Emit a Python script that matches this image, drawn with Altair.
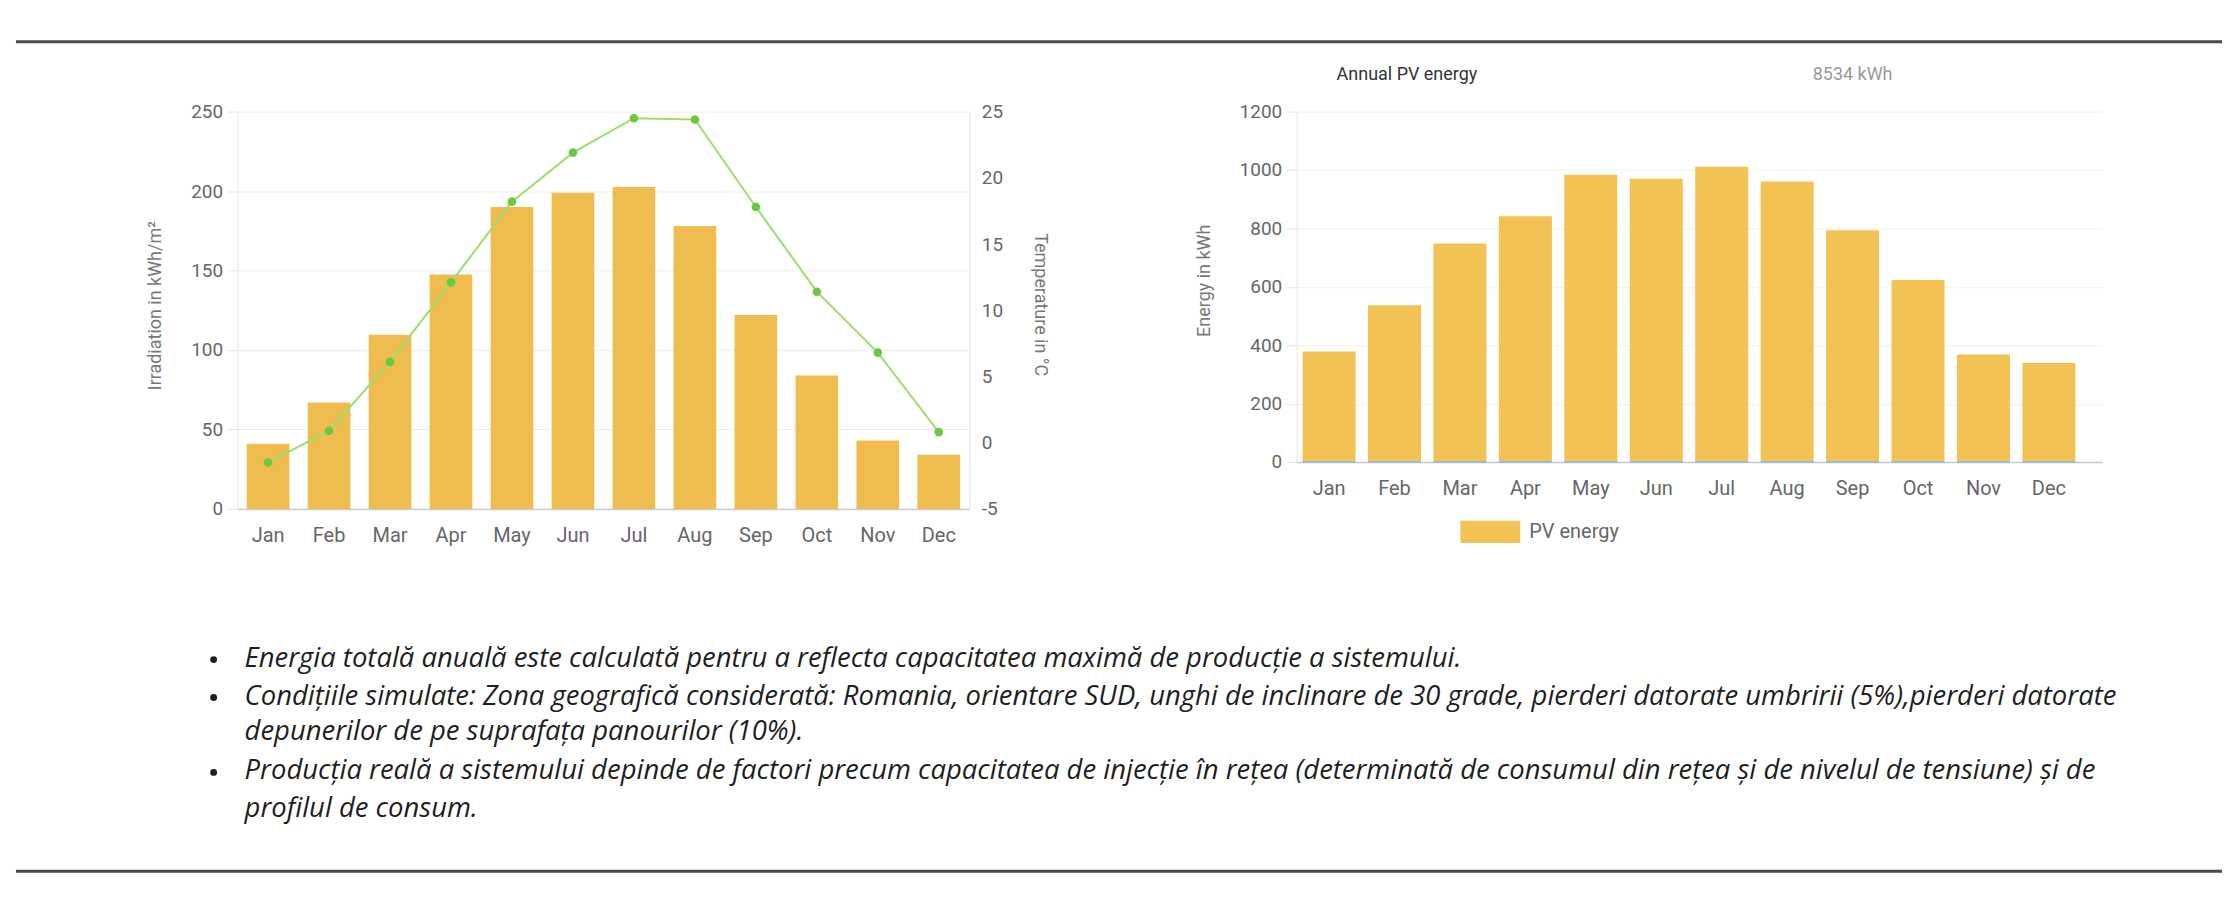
import altair as alt
import pandas as pd

MONTHS = ["Jan", "Feb", "Mar", "Apr", "May", "Jun", "Jul", "Aug", "Sep", "Oct", "Nov", "Dec"]
IRRADIATION = [41, 67, 109.5, 147.5, 190, 199, 202.5, 178, 122, 84, 43, 34]
TEMPERATURE = [-1.5, 0.9, 6.1, 12.1, 18.2, 21.9, 24.5, 24.4, 17.8, 11.4, 6.8, 0.8]
PV_ENERGY = [378, 537, 748, 842, 984, 970, 1011, 961, 794, 623, 368, 339]
ZERO_SERIES = [0, 0, 0, 0, 0, 0, 0, 0, 0, 0, 0, 0]

IRR_TICKS = [0, 50, 100, 150, 200, 250]
TEMP_TICKS = [-5, 0, 5, 10, 15, 20, 25]
ENERGY_TICKS = [0, 200, 400, 600, 800, 1000, 1200]

IRR_TITLE = "Irradiation in kWh/m²"
TEMP_TITLE = "Temperature in °C"
ENERGY_TITLE = "Energy in kWh"
ANNUAL_LABEL = "Annual PV energy"
ANNUAL_TOTAL = "8534 kWh"
LEGEND_LABEL = "PV energy"

BULLETS = [
    "Energia totală anuală este calculată pentru a reflecta capacitatea maximă de producție a sistemului.",
    "Condițiile simulate: Zona geografică considerată: Romania, orientare SUD, unghi de inclinare de 30 grade, pierderi datorate umbririi (5%),pierderi datorate",
    "depunerilor de pe suprafața panourilor (10%).",
    "Producția reală a sistemului depinde de factori precum capacitatea de injecție în rețea (determinată de consumul din rețea și de nivelul de tensiune) și de",
    "profilul de consum.",
]
BULLET_ON = [True, True, False, True, False]

FONT = "Roboto"
TEXT_FONT = "Open Sans"
LABEL_COLOR = "#666666"
BAR_L = "#EFBC50"
BAR_R = "#F3C254"
PLAIN_LABEL = "datum.value + ''"


def text_layer(txt, x, y, **kw):
    return alt.Chart(pd.DataFrame({"t": [txt]})).mark_text(**kw).encode(
        x=alt.value(x), y=alt.value(y), text="t:N"
    )


def bullet_dot(x, y):
    return alt.Chart(pd.DataFrame({"k": [0]})).mark_circle(
        size=48, color="#1e1e1e", opacity=1
    ).encode(x=alt.value(x), y=alt.value(y))


def hrule(x1, x2, y):
    return alt.Chart(pd.DataFrame({"k": [0]})).mark_rule(
        color="#4a4a4a", strokeWidth=3
    ).encode(x=alt.value(x1), x2=alt.value(x2), y=alt.value(y))


# ---------------- left chart: irradiation + temperature ----------------
irr_df = pd.DataFrame({"month": MONTHS, "irr": IRRADIATION, "temp": TEMPERATURE})

x_left = alt.X(
    "month:N", sort=MONTHS,
    scale=alt.Scale(paddingInner=0.3, paddingOuter=0.15),
    axis=alt.Axis(title=None, labelAngle=0, ticks=False, labelPadding=17,
                  domainColor="#cccccc", domainWidth=1.5, grid=False,
                  labelFont=FONT, labelFontSize=20, labelColor=LABEL_COLOR),
)

bars_l = alt.Chart(irr_df).mark_bar(color=BAR_L).encode(
    x=x_left,
    y=alt.Y("irr:Q", scale=alt.Scale(domain=[0, 250], nice=False),
            axis=alt.Axis(values=IRR_TICKS, title=IRR_TITLE, grid=True,
                          labelExpr=PLAIN_LABEL,
                          gridColor="#ececec", domainColor="#e4e4e4",
                          tickColor="#e4e4e4", tickSize=10, labelPadding=5,
                          labelFont=FONT, labelFontSize=19, labelColor=LABEL_COLOR,
                          titleFont=FONT, titleFontSize=18, titleFontWeight="normal",
                          titleColor="#777777", titleX=-82, titleY=194,
                          titleAngle=270, titleAlign="center", titleBaseline="middle")),
)

line_l = alt.Chart(irr_df).mark_line(
    color="#9BDE6B", strokeWidth=2,
    point=alt.OverlayMarkDef(filled=True, color="#6CC742", size=75, opacity=1),
).encode(
    x=x_left,
    y=alt.Y("temp:Q", scale=alt.Scale(domain=[-5, 25], nice=False),
            axis=alt.Axis(orient="right", values=TEMP_TICKS, title=TEMP_TITLE,
                          labelExpr=PLAIN_LABEL,
                          grid=False, domainColor="#e4e4e4", ticks=False,
                          labelPadding=12, labelFont=FONT, labelFontSize=19,
                          labelColor=LABEL_COLOR, titleFont=FONT, titleFontSize=18,
                          titleFontWeight="normal", titleColor="#777777",
                          titleX=70, titleY=193, titleAngle=90,
                          titleAlign="center", titleBaseline="middle")),
)

# decorations (positions relative to the left plot origin)
decor = [hrule(-222, 1988, -70), hrule(-222, 1988, 761)]
bullet_y = [548, 586, 622, 661, 699]
for txt, yy, has_b in zip(BULLETS, bullet_y, BULLET_ON):
    decor.append(text_layer(txt, 7, yy, align="left", baseline="middle",
                            font=TEXT_FONT, fontStyle="italic", fontSize=27.5,
                            color="#1e1e1e"))
    if has_b:
        decor.append(bullet_dot(-24, yy + 1))

left = alt.layer(bars_l, line_l, *decor).resolve_scale(y="independent").properties(
    width=733, height=398
)

# ---------------- right chart: PV energy ----------------
pv_df = pd.DataFrame({"month": MONTHS, "pv": PV_ENERGY, "zero": ZERO_SERIES,
                      "series": [LEGEND_LABEL] * len(MONTHS)})

x_right = alt.X(
    "month:N", sort=MONTHS,
    scale=alt.Scale(paddingInner=0.19, paddingOuter=0.25, align=0.18),
    axis=alt.Axis(title=None, labelAngle=0, ticks=False, labelPadding=17,
                  domainColor="#c8c8c8", domainWidth=1.5, grid=False,
                  labelFont=FONT, labelFontSize=20, labelColor=LABEL_COLOR),
)
y_right_axis = alt.Axis(values=ENERGY_TICKS, title=ENERGY_TITLE, grid=True,
                        labelExpr=PLAIN_LABEL,
                        gridColor="#efefef", domainColor="#e4e4e4",
                        tickColor="#e4e4e4", tickSize=10, labelPadding=5,
                        labelFont=FONT, labelFontSize=19, labelColor=LABEL_COLOR,
                        titleFont=FONT, titleFontSize=18, titleFontWeight="normal",
                        titleColor="#777777", titleX=-92, titleY=169,
                        titleAngle=270, titleAlign="center", titleBaseline="middle")
y_right_scale = alt.Scale(domain=[0, 1200], nice=False)

bars_r = alt.Chart(pv_df).mark_bar().encode(
    x=x_right,
    y=alt.Y("pv:Q", scale=y_right_scale, axis=y_right_axis),
    color=alt.Color("series:N", scale=alt.Scale(range=[BAR_R]),
                    legend=alt.Legend(orient="none", legendX=164, legendY=391,
                                      title=None, padding=0,
                                      symbolType="M-1,-0.37H1V0.37H-1Z",
                                      symbolSize=3600, symbolStrokeWidth=0,
                                      symbolOpacity=1, labelOffset=9,
                                      labelFont=FONT, labelFontSize=20,
                                      labelColor=LABEL_COLOR)),
)
zero_r = alt.Chart(pv_df).mark_tick(color="#7DB6E8", thickness=2, size=53).encode(
    x=x_right,
    y=alt.Y("zero:Q", scale=y_right_scale, axis=y_right_axis),
)
t_annual = text_layer(ANNUAL_LABEL, 40, -37, align="left", baseline="middle",
                      font=FONT, fontSize=18, color="#333333")
t_total = text_layer(ANNUAL_TOTAL, 517, -37, align="left", baseline="middle",
                     font=FONT, fontSize=18, color="#999999")

right = alt.layer(bars_r, zero_r, t_annual, t_total).properties(width=807, height=351)

chart = alt.hconcat(left, right, spacing=328, bounds="flush").resolve_scale(
    x="independent", y="independent", color="independent"
).properties(
    padding={"left": 6, "top": 31, "right": 6, "bottom": 6},
    background="white",
).configure_view(stroke=None)

chart.save("out.html", embed_options={"renderer": "svg", "actions": False})
